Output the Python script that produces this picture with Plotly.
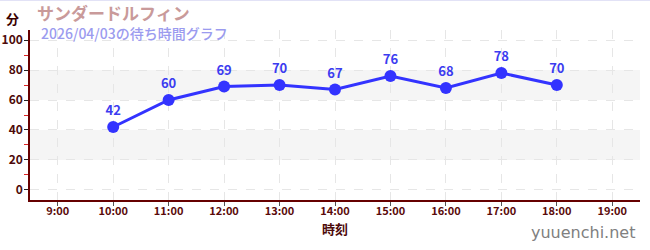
import plotly.graph_objects as go

hours = [10, 11, 12, 13, 14, 15, 16, 17, 18]
waits = [42, 60, 69, 70, 67, 76, 68, 78, 70]
tick_vals = list(range(9, 20))
tick_text = [f"{h}:00" for h in tick_vals]
title = "サンダードルフィン"
subtitle = "2026/04/03の待ち時間グラフ"

FONT = "Noto Sans CJK JP"
fig = go.Figure()
fig.add_trace(go.Scatter(
    x=hours, y=waits, mode="lines+markers+text",
    text=[str(v) for v in waits], textposition="top center",
    textfont=dict(color="#3c3cf0", size=13, family=FONT, weight="bold"),
    line=dict(color="#3333ff", width=3),
    marker=dict(color="#3333ff", size=12),
    cliponaxis=False, showlegend=False,
))
for y0, y1 in [(20, 40), (60, 80)]:
    fig.add_shape(type="rect", xref="paper", x0=0, x1=1, yref="y", y0=y0, y1=y1,
                  fillcolor="#f5f5f5", line_width=0, layer="below")
fig.add_shape(type="line", xref="paper", x0=-0.1, x1=1.1, yref="paper", y0=1 + 29.5 / 170, y1=1 + 29.5 / 170,
              line=dict(color="#e2e2f6", width=1))
fig.update_layout(
    width=650, height=250, margin=dict(l=30, r=10, t=30, b=50),
    plot_bgcolor="white", paper_bgcolor="white",
    font=dict(family=FONT, color="#4d0a0a"),
    xaxis=dict(range=[8.5, 19.5], tickvals=tick_vals, ticktext=tick_text,
               showline=True, linecolor="#660000", linewidth=1.5,
               ticks="outside", tickcolor="#555", ticklen=4, ticklabelstandoff=-4,
               tickfont=dict(size=11, color="#5a0a0a", weight="bold"),
               showgrid=True, gridcolor="#e6e6e6", griddash="dash", zeroline=False, automargin=False,
               title=dict(text="時刻", font=dict(size=13, color="#4d0a0a", weight="bold"), standoff=8)),
    yaxis=dict(range=[-6.7, 106.7], tickvals=[0, 20, 40, 60, 80, 100],
               showline=True, linecolor="#660000", linewidth=1.5,
               ticks="outside", tickcolor="#222", ticklen=4, ticklabelstandoff=-1, automargin=False,
               tickfont=dict(size=12, color="#4d0a0a", weight=600),
               minor=dict(tickvals=[10, 30, 50, 70, 90], ticks="outside", ticklen=4, tickcolor="#dd2222"),
               showgrid=True, gridcolor="#e6e6e6", griddash="dash", zeroline=False),
)
fig.add_annotation(xref="paper", yref="paper", x=0.0, xshift=-18, y=1.0, yshift=12, xanchor="center", yanchor="middle",
                   text="分", showarrow=False, font=dict(size=13, color="#3a0000", weight="bold"))
fig.add_annotation(xref="paper", yref="paper", x=0.0, xshift=5, y=1.0, yshift=18, xanchor="left", yanchor="middle",
                   text=title, showarrow=False, font=dict(size=17, color="#c99a9a", weight="bold"))
fig.add_annotation(xref="paper", yref="paper", x=0.0, xshift=9, y=1.0, yshift=-3, xanchor="left", yanchor="middle",
                   text=subtitle, showarrow=False, font=dict(size=14, color="#9b9bef", weight=500))
fig.add_annotation(xref="paper", yref="paper", x=1.0, xshift=-3, y=0, yshift=-32, xanchor="right", yanchor="middle",
                   text="yuuenchi.net", showarrow=False, font=dict(size=16, color="#808080", family="DejaVu Sans"))
fig.write_html("out.html")
